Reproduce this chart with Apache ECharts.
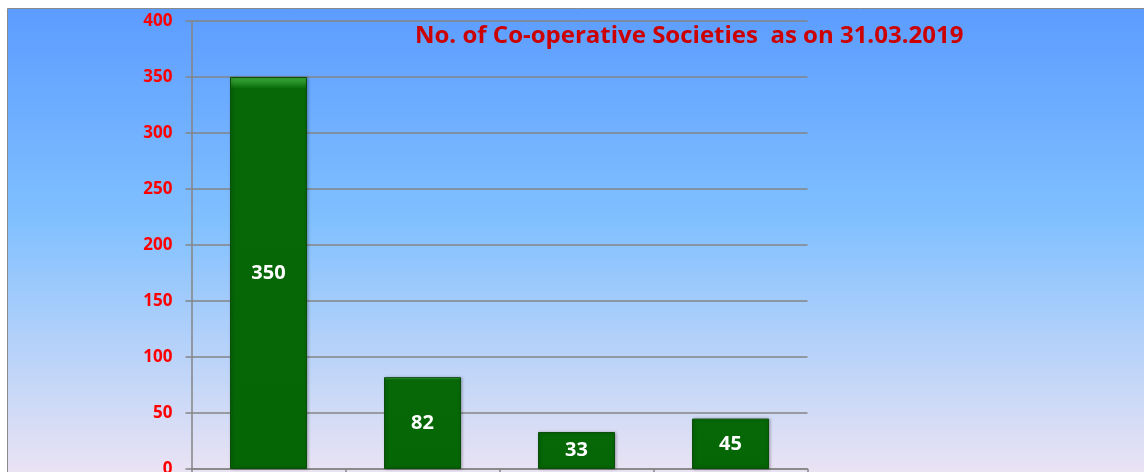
<!DOCTYPE html>
<html>
<head>
<meta charset="utf-8">
<script src="https://cdn.jsdelivr.net/npm/echarts@6/dist/echarts.min.js"></script>
<style>
  html, body { margin: 0; padding: 0; background: #fff; }
  #chart { width: 1144px; height: 472px; }
</style>
</head>
<body>
<div id="chart"></div>
<script>
// data
const categories = ['Category 1', 'Category 2', 'Category 3', 'Category 4']
const societies = [350, 82, 33, 45]
const yTicks = { min: 0, max: 400, interval: 50 }
const titleText = 'No. of Co-operative Societies  as on 31.03.2019'

const chart = echarts.init(document.getElementById('chart'))

chart.setOption({
  animation: false,
  backgroundColor: '#ffffff',
  textStyle: { fontFamily: '"Open Sans", sans-serif' },
  graphic: [
    {
      type: 'rect',
      z: -10,
      silent: true,
      shape: { x: 7.5, y: 8.5, width: 1140, height: 470 },
      style: {
        stroke: '#8a8a8a',
        lineWidth: 1,
        fill: new echarts.graphic.LinearGradient(0, 0, 0, 1, [
          { offset: 0, color: '#5c9cff' },
          { offset: 0.45, color: '#80c0ff' },
          { offset: 1, color: '#ede4f3' }
        ])
      }
    }
  ],
  title: {
    text: titleText,
    left: 410,
    top: 19,
    textStyle: {
      color: '#cc0000',
      fontSize: 24,
      fontWeight: 'bold',
      fontFamily: '"Open Sans", sans-serif'
    }
  },
  grid: {
    left: 191.5,
    right: 336.5,
    top: 21,
    bottom: 3,
    outerBoundsMode: 'none'
  },
  xAxis: {
    type: 'category',
    data: categories,
    axisLine: { lineStyle: { color: '#858585', width: 1.5 } },
    axisTick: { show: true, alignWithLabel: false, length: 6, lineStyle: { color: '#858585', width: 1.5 } },
    axisLabel: { show: false }
  },
  yAxis: {
    type: 'value',
    min: yTicks.min,
    max: yTicks.max,
    interval: yTicks.interval,
    axisLine: { show: true, lineStyle: { color: '#858585', width: 1.5 } },
    axisTick: { show: true, length: 6, lineStyle: { color: '#858585', width: 1.5 } },
    axisLabel: {
      color: '#ff0000',
      fontSize: 17,
      fontWeight: 'bold',
      margin: 19
    },
    splitLine: { lineStyle: { color: '#858585', width: 1.5 } }
  },
  series: [
    {
      type: 'bar',
      data: societies,
      barWidth: '50%',
      itemStyle: {
        color: new echarts.graphic.LinearGradient(0, 0, 0, 1, [
          { offset: 0, color: '#3aa83a' },
          { offset: 0.012, color: '#2a962a' },
          { offset: 0.03, color: '#066806' },
          { offset: 1, color: '#056605' }
        ]),
        borderColor: '#0b4d0b',
        borderWidth: 1,
        shadowColor: 'rgba(0,0,0,0.3)',
        shadowBlur: 3,
        shadowOffsetX: 1
      },
      label: {
        show: true,
        position: 'inside',
        color: '#ffffff',
        fontSize: 20,
        fontWeight: 'bold'
      }
    }
  ]
})
</script>
</body>
</html>
